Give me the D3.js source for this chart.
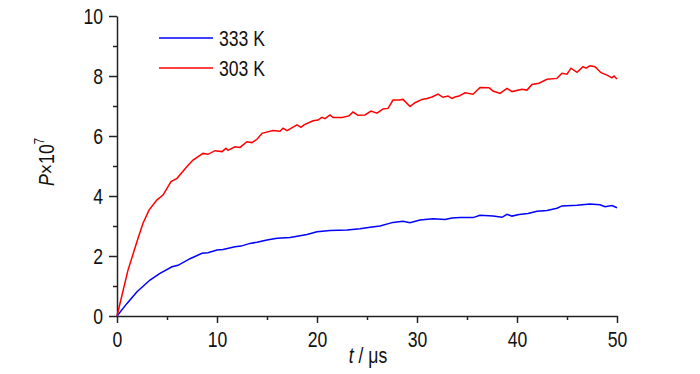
<!DOCTYPE html>
<html>
<head>
<meta charset="utf-8">
<script src="https://cdn.jsdelivr.net/npm/d3@7"></script>
<style>
  body { margin: 0; background: #fff; }
  svg text { font-family: "Liberation Sans", Arial, sans-serif; fill: #111; }
  .axis path, .axis line { stroke: #222; stroke-width: 1.5px; }
</style>
</head>
<body>
<div id="vis-container"></div>
<script>
// 333 K series (t in microseconds, P x 1e7)
var t333 = [0, 1.0, 2.0, 3.3, 4.3, 5.5, 6.1, 7.3, 8.5, 9.1, 10.0, 10.6, 11.8, 12.4, 13.3, 14.0, 15.0, 16.0, 17.3,
            19.0, 20.0, 21.3, 23.0, 24.3, 25.3, 26.3, 27.6, 28.6, 29.3, 30.3, 31.6, 32.8, 33.5, 34.3, 35.6, 36.3,
            37.6, 38.5, 39.0, 39.5, 40.2, 41.1, 42.0, 43.0, 44.0, 44.5, 46.0, 47.3, 48.3, 48.8, 49.5, 50.0];
var p333 = [0, 0.42, 0.81, 1.2, 1.42, 1.64, 1.69, 1.91, 2.09, 2.11, 2.2, 2.22, 2.31, 2.33, 2.42, 2.46, 2.53, 2.59, 2.62,
            2.72, 2.81, 2.85, 2.87, 2.91, 2.96, 3.0, 3.12, 3.16, 3.11, 3.2, 3.24, 3.22, 3.27, 3.28, 3.28, 3.36,
            3.33, 3.29, 3.39, 3.33, 3.38, 3.42, 3.49, 3.52, 3.59, 3.67, 3.69, 3.73, 3.71, 3.64, 3.68, 3.61];

// 303 K series
var t303 = [0, 1.1, 2.0, 2.6, 3.2, 4.0, 4.6, 5.4, 6.0, 7.0, 7.6, 8.6, 9.1, 9.8, 10.5, 10.9, 11.1, 11.8, 12.3, 13.0,
            13.5, 14.0, 14.5, 15.6, 16.3, 16.6, 17.0, 18.0, 18.4, 18.7, 19.6, 20.1, 20.5, 20.8, 21.3, 21.6, 22.5,
            23.2, 23.6, 24.1, 24.8, 25.4, 26.0, 26.6, 27.1, 27.6, 28.2, 28.6, 29.3, 29.8, 30.5, 31.0, 31.5, 32.1,
            32.6, 33.1, 33.5, 33.8, 34.2, 34.8, 35.6, 36.3, 37.2, 37.6, 38.3, 39.0, 39.5, 40.5, 41.0, 41.5, 42.2,
            43.0, 44.0, 44.5, 45.0, 45.4, 46.0, 46.6, 46.9, 47.3, 47.8, 48.4, 49.0, 49.5, 49.7, 50.0];
var p303 = [0, 1.53, 2.48, 3.09, 3.53, 3.87, 4.03, 4.48, 4.59, 4.98, 5.2, 5.42, 5.39, 5.51, 5.48, 5.59, 5.52, 5.64, 5.62, 5.81,
            5.78, 5.89, 6.09, 6.18, 6.16, 6.26, 6.18, 6.37, 6.29, 6.37, 6.51, 6.53, 6.62, 6.58, 6.70, 6.62, 6.62,
            6.67, 6.80, 6.69, 6.70, 6.83, 6.76, 6.90, 6.92, 7.20, 7.20, 7.22, 6.98, 7.11, 7.22, 7.25, 7.30, 7.40,
            7.29, 7.33, 7.25, 7.30, 7.33, 7.44, 7.39, 7.62, 7.61, 7.50, 7.42, 7.59, 7.48, 7.56, 7.53, 7.72, 7.76,
            7.89, 7.92, 8.09, 8.06, 8.26, 8.12, 8.31, 8.26, 8.34, 8.31, 8.11, 8.03, 7.94, 8.0, 7.9];

var seriesNames = ["333 K", "303 K"];
var seriesColors = ["#0000ff", "#ff0000"];
var xTicks = [0, 10, 20, 30, 40, 50];
var yTicks = [0, 2, 4, 6, 8, 10];

var margin = { top: 16, right: 83, bottom: 58, left: 117 };
var width  = 700 - margin.left - margin.right;
var height = 374 - margin.top  - margin.bottom;
var squeeze = 0.8;   // text in the original is a narrow face
var fontSize = "22px";

var xScale = d3.scaleLinear().domain([0, 50]).range([0, width]);
var yScale = d3.scaleLinear().domain([0, 10]).range([height, 0]);

var svg = d3.select("#vis-container")
  .append("svg")
    .attr("width", 700)
    .attr("height", 374);
var canvas = svg.append("g")
    .attr("transform", "translate(" + margin.left + "," + margin.top + ")");

// minor ticks first
canvas.append("g")
    .attr("class", "axis")
    .attr("transform", "translate(0," + height + ")")
    .call(d3.axisBottom(xScale).tickValues([5, 15, 25, 35, 45]).tickSize(4).tickFormat(""))
    .select(".domain").remove();
canvas.append("g")
    .attr("class", "axis")
    .call(d3.axisLeft(yScale).tickValues([1, 3, 5, 7, 9]).tickSize(4).tickFormat(""))
    .select(".domain").remove();

var xAxis = canvas.append("g")
    .attr("class", "axis")
    .attr("transform", "translate(0," + height + ")")
    .call(d3.axisBottom(xScale).tickValues(xTicks).tickSizeInner(7).tickSizeOuter(0).tickPadding(8));
var yAxis = canvas.append("g")
    .attr("class", "axis")
    .call(d3.axisLeft(yScale).tickValues(yTicks).tickSizeInner(8).tickSizeOuter(0).tickPadding(6));
canvas.selectAll(".axis text").style("font-size", fontSize).style("fill", "#111")
    .attr("transform", "scale(" + squeeze + ",1)");
yAxis.selectAll("text").attr("x", -14 / squeeze).attr("dy", "0.36em");

// lines
var line = d3.line()
    .x(function(d) { return xScale(d[0]); })
    .y(function(d) { return yScale(d[1]); });

var series = [
  t333.map(function(t, i) { return [t, p333[i]]; }),
  t303.map(function(t, i) { return [t, p303[i]]; })
];

canvas.selectAll(".series")
  .data(series)
  .enter().append("path")
    .attr("class", "series")
    .attr("d", line)
    .attr("fill", "none")
    .attr("stroke", function(d, i) { return seriesColors[i]; })
    .attr("stroke-width", 1.5);

// legend
var legend = svg.selectAll(".legend")
  .data(seriesNames)
  .enter().append("g")
    .attr("class", "legend")
    .attr("transform", function(d, i) { return "translate(159," + (38 + i * 30) + ")"; });
legend.append("line")
    .attr("x1", 0).attr("x2", 54)
    .attr("stroke", function(d, i) { return seriesColors[i]; })
    .attr("stroke-width", 1.5);
legend.append("text")
    .attr("transform", "translate(60,0) scale(" + squeeze + ",1)")
    .attr("dy", "0.36em")
    .style("font-size", fontSize)
    .text(function(d) { return d; });

// axis titles
var xTitle = svg.append("text")
    .attr("transform", "translate(368,363) scale(" + squeeze + ",1)")
    .attr("text-anchor", "middle")
    .style("font-size", fontSize);
xTitle.append("tspan").style("font-style", "italic").text("t");
xTitle.append("tspan").text(" / \u03bcs");

var yTitle = svg.append("text")
    .attr("transform", "translate(54,162) rotate(-90) scale(" + squeeze + ",1)")
    .attr("text-anchor", "middle")
    .style("font-size", fontSize);
yTitle.append("tspan").style("font-style", "italic").text("P");
yTitle.append("tspan").text("\u00d710");
yTitle.append("tspan").attr("dy", "-0.7em").style("font-size", "14px").text("7");
</script>
</body>
</html>
